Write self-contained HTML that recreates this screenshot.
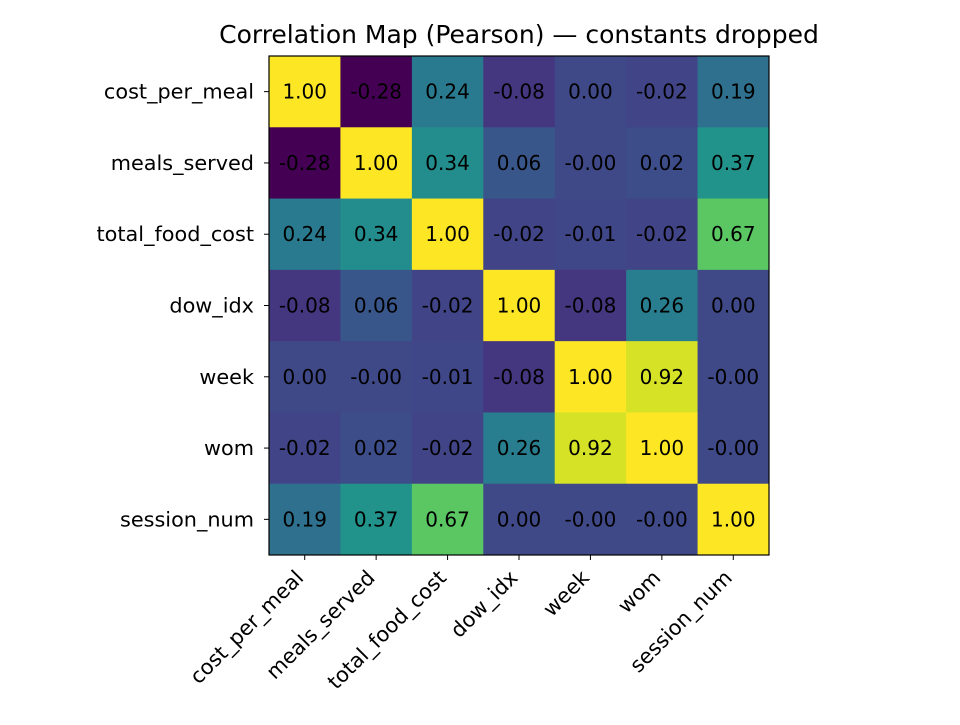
<!DOCTYPE html>
<html><head><meta charset="utf-8"><style>
body{margin:0;background:#fff}
svg text{font-family:"DejaVu Sans","Liberation Sans",sans-serif}
</style></head><body>
<svg id="chart" width="960" height="720" xmlns="http://www.w3.org/2000/svg">
<text x="519" y="43" text-anchor="middle" font-size="25">Correlation Map (Pearson) — constants dropped</text>
<g id="cells"></g>
<g id="labels"></g>
<rect x="269" y="56" width="500" height="499" fill="none" stroke="#000" stroke-width="1.2"/>
<g id="axes"></g>
</svg>
<script>
const variables = ["cost_per_meal","meals_served","total_food_cost","dow_idx","week","wom","session_num"];
const row0 = [1.00,-0.28,0.24,-0.08,0.00,-0.02,0.19];
const row1 = [-0.28,1.00,0.34,0.06,-0.00,0.02,0.37];
const row2 = [0.24,0.34,1.00,-0.02,-0.01,-0.02,0.67];
const row3 = [-0.08,0.06,-0.02,1.00,-0.08,0.26,0.00];
const row4 = [0.00,-0.00,-0.01,-0.08,1.00,0.92,-0.00];
const row5 = [-0.02,0.02,-0.02,0.26,0.92,1.00,-0.00];
const row6 = [0.19,0.37,0.67,0.00,-0.00,-0.00,1.00];
const matrix = [row0,row1,row2,row3,row4,row5,row6];

const NS="http://www.w3.org/2000/svg";
const X0=269,Y0=56,W=500,H=499;
const n=variables.length, cw=W/n, ch=H/n;
const xPos=i=>X0+i*cw, yPos=j=>Y0+j*ch;
const vir=["#440154","#482475","#414487","#355f8d","#2a788e","#21918c","#22a884","#44bf70","#7ad151","#bddf26","#fde725"];
const flat=matrix.flat(); const vmin=Math.min(...flat), vmax=Math.max(...flat);
function hex(h){return [1,3,5].map(k=>parseInt(h.substr(k,2),16));}
function color(v){let t=(v-vmin)/(vmax-vmin);t=Math.max(0,Math.min(1,t));
 const p=t*10,i=Math.min(9,Math.floor(p)),f=p-i;const a=hex(vir[i]),b=hex(vir[i+1]);
 return "rgb("+a.map((c,k)=>Math.round(c+(b[k]-c)*f)).join(",")+")";}
function fmt(v){return (Object.is(v,-0)?"-":"")+v.toFixed(2);}
function mk(tag,attrs,parent){const e=document.createElementNS(NS,tag);for(const k in attrs)e.setAttribute(k,attrs[k]);parent.appendChild(e);return e;}
const cells=document.getElementById("cells"),labels=document.getElementById("labels"),axes=document.getElementById("axes");
matrix.forEach((row,j)=>row.forEach((v,i)=>{
 const r=mk("rect",{x:xPos(i),y:yPos(j),width:cw+0.5,height:ch+0.5,fill:color(v)},cells);
 
 
 const t=mk("text",{x:xPos(i)+cw/2,y:yPos(j)+ch/2+7,"text-anchor":"middle","font-size":"20"},labels);
 t.textContent=fmt(v);
 
 
}));
variables.forEach((name,k)=>{
 const cy=yPos(k)+ch/2, cx=xPos(k)+cw/2;
 const yt=mk("line",{x1:X0-5,x2:X0,y1:cy,y2:cy,stroke:"#000"},axes);
 
 
 const yl=mk("text",{x:X0-15,y:cy+7,"text-anchor":"end","font-size":"20.8"},axes);
 yl.textContent=name;
 
 
 const xt=mk("line",{x1:cx,x2:cx,y1:Y0+H,y2:Y0+H+5,stroke:"#000"},axes);
 
 
 const xl=mk("text",{x:cx,y:Y0+H+24,"text-anchor":"end","font-size":"20.8",transform:"rotate(-45 "+cx+" "+(Y0+H+24)+")"},axes);
 xl.textContent=name;
 
 
});
</script>
</body></html>
